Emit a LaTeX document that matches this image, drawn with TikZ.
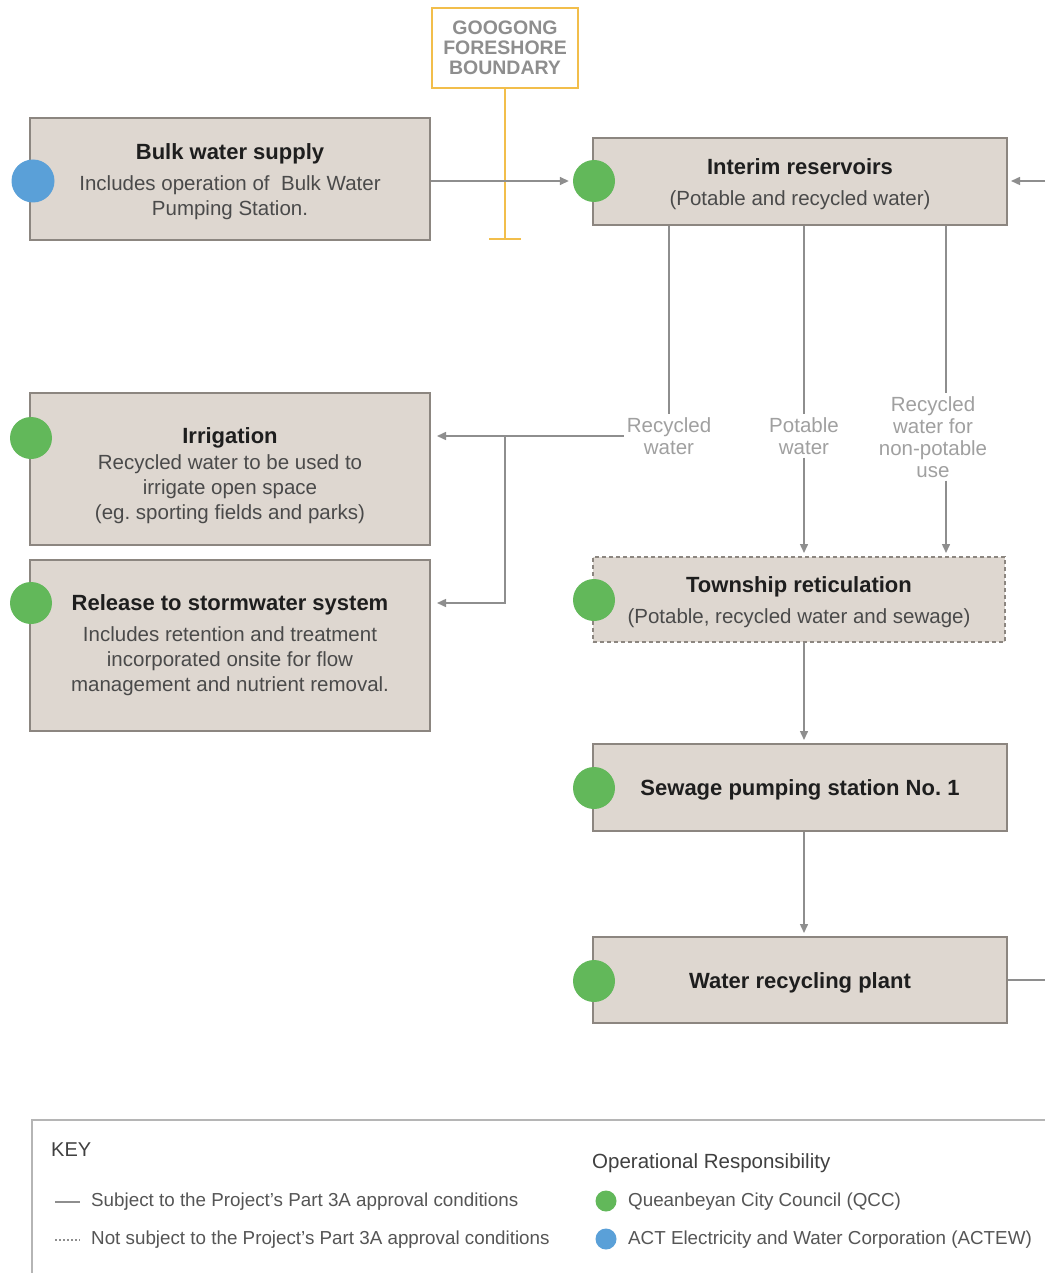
\documentclass[tikz,border=0pt]{standalone}
\usepackage{fontspec}
\setmainfont{Liberation Sans}
\usetikzlibrary{arrows.meta,calc}
\frenchspacing

\definecolor{boxfill}{HTML}{DED7D0}
\definecolor{boxline}{HTML}{8C8680}
\definecolor{flowc}{HTML}{8E8E8E}
\definecolor{qcc}{HTML}{62B85A}
\definecolor{actew}{HTML}{5AA0D8}
\definecolor{fsborder}{HTML}{F2BE4B}
\definecolor{titletext}{HTML}{1E1E1E}
\definecolor{bodytext}{HTML}{4A4A4A}
\definecolor{labeltext}{HTML}{A0A0A0}
\definecolor{keytext}{HTML}{555555}
\definecolor{keyline}{HTML}{B5B5B5}

% stage heading; the optional argument sets the height of the first line
\newcommand\stagetitle[2][21pt]{\rule{0pt}{#1}{\fontsize{22}{25}\selectfont\bfseries\color{titletext}#2}}

\begin{document}
\begin{tikzpicture}[x=1pt,y=-1pt,
  stagebox/.style={draw=boxline, line width=2pt, fill=boxfill, inner sep=0pt,
    align=center, text=bodytext, font=\fontsize{20.5}{25}\selectfont},
  notsubject/.style={dash pattern=on 4pt off 3pt},
  dot/.style={circle, minimum size=42pt, inner sep=0pt, fill=qcc},
  flow/.style={draw=flowc, line width=1.5pt},
  flowarrow/.style={flow, -{Triangle[length=9pt,width=8pt]}, shorten >=4pt},
  lbl/.style={align=center, text=labeltext, inner sep=3pt,
    font=\fontsize{20.5}{22}\selectfont},
  keytxt/.style={anchor=west, text=keytext, inner sep=0pt,
    font=\fontsize{18.8}{20}\selectfont}]

\useasboundingbox (0,0) rectangle (1045,1273);
\fill[white] (0,0) rectangle (1045,1273);

% ---------- stages ----------
\node[stagebox, minimum width=400pt, minimum height=122pt] (bulk) at (230,179)
  {\stagetitle{Bulk water supply}\\[6pt]Includes operation of\ \ Bulk Water\\Pumping Station.};
\node[stagebox, minimum width=414pt, minimum height=87pt] (interim) at (800,181.5)
  {\stagetitle{Interim reservoirs}\\[6pt](Potable and recycled water)};
\node[stagebox, minimum width=400pt, minimum height=152pt] (irr) at (230,469)
  {\stagetitle[30pt]{Irrigation}\\[1pt]Recycled water to be used to\\irrigate open space\\(eg. sporting fields and parks)};
\node[stagebox, minimum width=400pt, minimum height=171pt] (release) at (230,645.5)
  {\stagetitle[15pt]{Release to stormwater system}\\[6pt]Includes retention and treatment\\incorporated onsite for flow\\management and nutrient removal.};
\node[stagebox, notsubject, minimum width=412pt, minimum height=85pt] (town) at (799,599.5)
  {\stagetitle{Township reticulation}\\[6pt](Potable, recycled water and sewage)};
\node[stagebox, minimum width=414pt, minimum height=87pt] (sps) at (800,787.5)
  {\stagetitle{Sewage pumping station No. 1}};
\node[stagebox, minimum width=414pt, minimum height=86pt] (wrp) at (800,980)
  {\stagetitle{Water recycling plant}};

% ---------- responsibility dots ----------
\node[dot, fill=actew, minimum size=43pt] (dBulk) at (33,181) {};
\node[dot] (dInterim) at (594,181) {};
\node[dot] (dIrr) at (31,438) {};
\node[dot] (dRel) at (31,603) {};
\node[dot] (dTown) at (594,600) {};
\node[dot] (dSps) at (594,788) {};
\node[dot] (dWrp) at (594,981) {};

% ---------- foreshore boundary ----------
\node[draw=fsborder, line width=1.8pt, fill=white, minimum width=146pt, minimum height=80pt,
  align=center, text=flowc, font=\fontsize{19.5}{20}\selectfont\bfseries] (gfb) at (505,48)
  {GOOGONG\\FORESHORE\\BOUNDARY};
\coordinate (gfbEnd) at (505,239);
\draw[fsborder, line width=1.8pt] (gfb.south) -- (gfbEnd);
\draw[fsborder, line width=1.8pt] ($(gfbEnd)+(-16,0)$) -- ($(gfbEnd)+(16,0)$);

% ---------- flow labels ----------
\node[lbl] (lR) at (669,436) {Recycled\\water};
\node[lbl] (lP) at (804,436) {Potable\\water};
\node[lbl] (lN) at (933,437) {Recycled\\water for\\non-potable\\use};
\coordinate (nx) at (946,0);
\coordinate (split) at (505,437);
\coordinate (recycIn) at (1045,181);
\coordinate (recycOut) at (1045,980);

% ---------- connectors ----------
\draw[flowarrow] (bulk.east |- dInterim.west) -- (dInterim.west);
\draw[flowarrow, shorten >=3pt] (recycIn) -- (interim.east |- recycIn);

\draw[flow] (interim.south -| lR) -- (lR.north);
\draw[flowarrow, shorten >=6pt] (lR.west) -- (irr.east |- lR.west);
\draw[flowarrow, shorten >=6pt] (split) |- (release.east |- dRel);

\draw[flow] (interim.south -| lP) -- (lP.north);
\draw[flowarrow, shorten >=3pt] (lP.south) -- (town.north -| lP);

\draw[flow] (interim.south -| nx) -- (nx |- lN.north);
\draw[flowarrow, shorten >=3pt] (nx |- lN.south) -- (town.north -| nx);

\draw[flowarrow, shorten >=3pt] (town.south -| lP) -- (sps.north -| lP);
\draw[flowarrow, shorten >=3pt] (sps.south -| lP) -- (wrp.north -| lP);
\draw[flow] (wrp.east |- recycOut) -- (recycOut);

% ---------- key ----------
\draw[keyline, line width=1.5pt] (32,1273) -- (32,1120) -- (1045,1120);
\node[keytxt, text=titletext!85, font=\fontsize{20}{20}\selectfont] (kTitle) at (51,1150) {KEY};
\draw[flowc, line width=1.3pt] (55,1202) -- (80,1202);
\node[keytxt] (kSolid) at (91,1202) {Subject to the Project's Part 3A approval conditions};
\draw[flowc, line width=1.3pt, dash pattern=on 2pt off 2pt] (55,1240) -- (80,1240);
\node[keytxt] (kDash) at (91,1240) {Not subject to the Project's Part 3A approval conditions};
\node[keytxt, text=titletext!85, font=\fontsize{20.5}{20}\selectfont] (kOps) at (592,1163) {Operational Responsibility};
\node[dot, minimum size=21pt] (kQcc) at (606,1201) {};
\node[keytxt] (kQccT) at (628,1202) {Queanbeyan City Council (QCC)};
\node[dot, fill=actew, minimum size=21pt] (kAct) at (606,1239) {};
\node[keytxt] (kActT) at (628,1240) {ACT Electricity and Water Corporation (ACTEW)};
\end{tikzpicture}
\end{document}
